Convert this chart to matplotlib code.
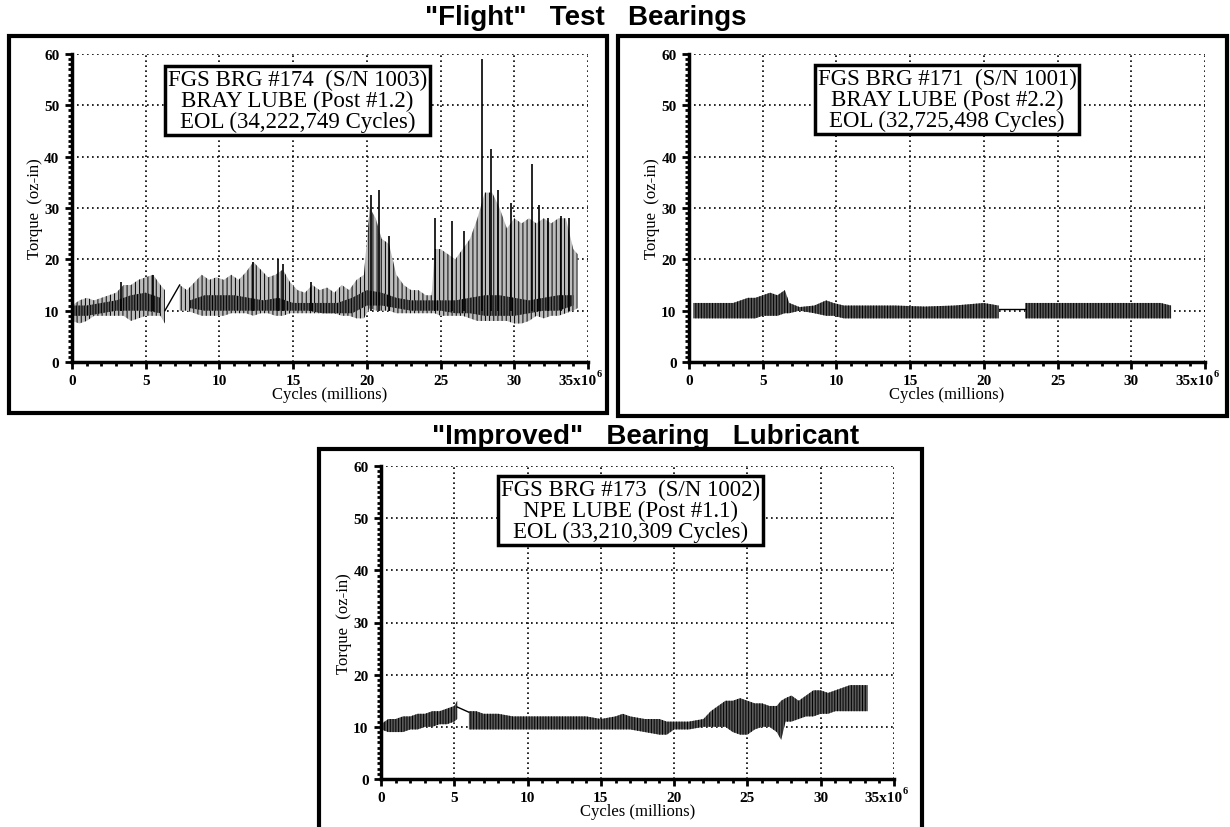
import matplotlib
matplotlib.use('Agg')
import matplotlib.pyplot as plt
from matplotlib.patches import Rectangle
from matplotlib.ticker import MultipleLocator

nan = float('nan')
plt.rcParams['hatch.linewidth'] = 0.7

# --- data (torque in oz-in, cycles in millions) ---

# FGS BRG #174, Bray lube: envelope of the trace
p1_x = [0, 0.5, 1, 1.5, 2, 2.5, 3, 3.5, 4, 4.5, 5, 5.5, 6, 6.3, 6.8,
        7.3, 7.8, 8.3, 8.8, 9.3, 9.8, 10.3, 10.8, 11.3, 11.8, 12.3, 12.8, 13.3, 13.8, 14.3, 14.8,
        15.3, 15.8, 16.3, 16.8, 17.3, 17.8, 18.3, 18.8, 19.3, 19.8, 20.2, 20.6, 21, 21.5, 22,
        22.5, 23, 23.5, 24, 24.4, 24.6, 25, 25.5, 26, 26.5, 27, 27.5, 28, 28.5, 29, 29.5,
        30, 30.5, 31, 31.5, 32, 32.5, 33, 33.5, 34, 34.3]
p1_lo = [8, 7.5, 8, 9, 9, 9, 9, 9, 8, 8.5, 9, 9, 9, 7.5, nan,
         10, 10, 9.5, 9, 9, 9, 9, 9.5, 9.5, 9.5, 9, 9.5, 9.5, 9, 9, 9.5,
         9.5, 9.5, 9.5, 9.5, 9.5, 9.5, 9, 9, 8.5, 8.5, 10.5, 10, 10, 10, 9.5,
         9.5, 9.5, 9.5, 9.5, 9.5, 9.5, 9, 9, 9, 9, 8.5, 8, 8, 8, 8, 8,
         7.5, 7.5, 8, 9, 8.5, 9, 9, 9.5, 10, 10.5]
p1_hi = [11, 12, 12.5, 12, 12.5, 13, 13.5, 15, 15, 16, 16.5, 17, 15, 14, nan,
         15, 14, 15.5, 17, 16, 16.5, 16, 17, 16, 17.5, 19.5, 18, 16.5, 17, 18, 15.5,
         14, 13.5, 15, 14, 14.5, 13.5, 15, 14, 16, 17, 30, 28, 24, 23, 17,
         15, 14, 14, 13, 13, 22, 22, 21, 20, 22, 24, 28, 33, 33, 30, 26,
         28, 27, 28, 27, 28, 27, 28, 28, 22, 21]
# darker, denser core of the trace
p1_core_x = list(range(35))
p1_core_lo = [9, 9, 9.5, 10, 10, 10, 9.5, nan, 10.5, 10, 10, 10, 10, 10, 10, 10, 10, 9.5,
              9.5, 9.5, 11, 11, 10.5, 10, 10, 10, 9.5, 9.5, 9, 9, 9, 9.5, 10, 10, 11]
p1_core_hi = [11, 11, 11.5, 12, 13, 13.5, 12.5, nan, 12, 13, 13, 13, 12.5, 12, 12.5, 11.5, 11.5, 11.5,
              11.5, 12.5, 14, 13.5, 12.5, 12, 12, 12, 12, 12.5, 13, 13, 12.5, 12, 12.5, 13, 13]
p1_spike_x = [3.3, 5.5, 12.3, 14.0, 14.3, 16.2, 20.3, 20.8, 21.5, 24.6, 25.8, 26.6,
              27.8, 28.4, 28.9, 29.8, 31.2, 31.7, 32.3, 33.2, 33.7]
p1_spike_top = [15.5, 17, 19.5, 20, 19, 15.5, 32.5, 33.5, 24.5, 28, 27.5, 25.5,
                59, 41.5, 33.5, 31, 38.5, 30.5, 28, 28.5, 28]
p1_spike_base = 10
p1_link_x = [6.3, 7.3]
p1_link_y = [10, 15]

# FGS BRG #171, Bray lube
p2_x = [0.3, 1, 2, 3, 3.5, 4, 4.5, 5, 5.5, 6, 6.5, 6.8, 7.5, 8.5, 9.3, 9.8, 10.5,
        12, 14, 16, 18, 20, 21, 22, 22.8, 24, 26, 28, 30, 32, 32.7]
p2_lo = [8.5, 8.5, 8.5, 8.5, 8.5, 8.5, 8.5, 9, 9, 9, 9.5, 9.5, 10, 9.5, 9, 9, 8.5,
         8.5, 8.5, 8.5, 8.5, 8.5, 8.5, nan, 8.5, 8.5, 8.5, 8.5, 8.5, 8.5, 8.5]
p2_hi = [11.5, 11.5, 11.5, 11.5, 12, 12.5, 12.5, 13, 13.5, 13, 14, 11.5, 10.7, 11, 12, 11.5, 11,
         11, 11, 10.8, 11, 11.5, 11, nan, 11.5, 11.5, 11.5, 11.5, 11.5, 11.5, 11]
p2_link_x = [21, 22.8]
p2_link_y = [10.3, 10.3]

# FGS BRG #173, NPE lube
p3_x = [0, 0.5, 1, 1.5, 2, 2.5, 3, 3.5, 4, 4.5, 5, 5.2, 5.6, 6, 6.5, 7, 8, 9, 10, 11, 12,
        13, 14, 15, 16, 16.5, 17, 18, 19, 19.5, 20, 21, 22, 22.5, 23, 23.5, 24, 24.5, 25,
        25.5, 26, 26.5, 27, 27.3, 27.6, 28, 28.5, 29, 29.5, 30, 30.5, 31, 31.5, 32, 32.5, 33.2]
p3_lo = [9.5, 9, 9, 9, 9.5, 9.5, 10, 10, 10.5, 10.5, 11, 11.5, nan, 9.5, 9.5, 9.5, 9.5, 9.5, 9.5, 9.5, 9.5,
         9.5, 9.5, 9.5, 9.5, 9.5, 9.5, 9, 8.5, 8.5, 9.5, 9.5, 10, 10, 10, 10, 9, 8.5, 8.5,
         9.5, 10, 10, 9, 7.5, 11, 11, 11.5, 12, 12, 12.5, 12.5, 13, 13, 13, 13, 13]
p3_hi = [10.5, 11.5, 11.5, 12, 12, 12.5, 12.5, 13, 13, 13.5, 14, 15, nan, 13, 13, 12.5, 12.5, 12, 12, 12, 12,
         12, 12, 11.5, 12, 12.5, 12, 11.5, 11.5, 11, 11, 11, 11.5, 13, 14, 15, 15, 15.5, 15,
         14.5, 14.5, 14, 14, 15, 15.5, 16, 15, 16, 17, 17, 16.5, 17, 17.5, 18, 18, 18]
p3_link_x = [5.2, 6.0]
p3_link_y = [13.8, 12.8]

xtick_vals = [0, 5, 10, 15, 20, 25, 30, 35]
xtick_labels = ['0', '5', '10', '15', '20', '25', '30', '']
ytick_vals = [0, 10, 20, 30, 40, 50, 60]

box1 = 'FGS BRG #174  (S/N 1003)\nBRAY LUBE (Post #1.2)\nEOL (34,222,749 Cycles)'
box2 = 'FGS BRG #171  (S/N 1001)\nBRAY LUBE (Post #2.2)\nEOL (32,725,498 Cycles)'
box3 = 'FGS BRG #173  (S/N 1002)\nNPE LUBE (Post #1.1)\nEOL (33,210,309 Cycles)'

serif = 'Liberation Serif'
sans = 'Liberation Sans'


def setup_axes(ax):
    ax.set_xlim(0, 35)
    ax.set_ylim(0, 60)
    ax.set_xticks(xtick_vals)
    ax.set_xticklabels(xtick_labels)
    ax.set_yticks(ytick_vals)
    ax.xaxis.set_minor_locator(MultipleLocator(1))
    ax.yaxis.set_minor_locator(MultipleLocator(1))
    ax.tick_params(which='major', direction='out', length=5, width=2, pad=4)
    ax.tick_params(which='minor', direction='out', length=3, width=2)
    for lab in ax.get_xticklabels() + ax.get_yticklabels():
        lab.set_fontfamily(serif)
        lab.set_fontweight('bold')
        lab.set_fontsize(11)
    ax.grid(True, which='major', color='black', linestyle=(0, (1, 2)), linewidth=1.2)
    ax.set_axisbelow(True)
    for s in ['top', 'right']:
        ax.spines[s].set_visible(False)
    for s in ['left', 'bottom']:
        ax.spines[s].set_linewidth(2.5)
    ax.set_xlabel('Cycles (millions)', fontfamily=serif, fontsize=12, labelpad=-1)
    ax.set_ylabel('Torque  (oz-in)', fontfamily=serif, fontsize=12, labelpad=1)
    # last tick label "35x10^6", set slightly to the left like the original
    ax.annotate('35x10', xy=(35, 0), xycoords=('data', 'axes fraction'),
                xytext=(6, -9), textcoords='offset points', ha='right', va='top',
                fontfamily=serif, fontweight='bold', fontsize=11)
    ax.annotate('6', xy=(35, 0), xycoords=('data', 'axes fraction'),
                xytext=(6, -5), textcoords='offset points', ha='left', va='top',
                fontfamily=serif, fontweight='bold', fontsize=7.5)
    ax.set_facecolor('none')


def draw_band(ax, x, lo, hi, face, hatch):
    ax.fill_between(x, lo, hi, facecolor=face, edgecolor='black', hatch=hatch, linewidth=0)


def add_box(ax, text, xf, yf):
    ax.text(xf, yf, text, transform=ax.transAxes, ha='center', va='center',
            fontfamily=serif, fontsize=16.5, linespacing=1.0,
            bbox=dict(boxstyle='square,pad=0.12', fc='white', ec='black', lw=2.5))


fig = plt.figure(figsize=(12.3, 8.28), dpi=100)

# panel frames
fig.add_artist(Rectangle((9 / 1230, 1 - 414 / 828), 598 / 1230, 377 / 828,
                         transform=fig.transFigure, fill=False, lw=3, ec='black'))
fig.add_artist(Rectangle((618 / 1230, 1 - 417 / 828), 609 / 1230, 380 / 828,
                         transform=fig.transFigure, fill=False, lw=3, ec='black'))
fig.add_artist(Rectangle((319 / 1230, 1 - 840 / 828), 603 / 1230, 390 / 828,
                         transform=fig.transFigure, fill=False, lw=3, ec='black'))

fig.text(586 / 1230, 1 - 18 / 828, '"Flight"   Test   Bearings', ha='center', va='center',
         fontfamily=sans, fontweight='bold', fontsize=20)
fig.text(646 / 1230, 1 - 437 / 828, '"Improved"   Bearing   Lubricant', ha='center', va='center',
         fontfamily=sans, fontweight='bold', fontsize=20)

# panel 1
ax1 = fig.add_axes([72 / 1230, 1 - 363 / 828, 516 / 1230, 308 / 828])
draw_band(ax1, p1_x, p1_lo, p1_hi, '#bdbdbd', '||||')
draw_band(ax1, p1_core_x, p1_core_lo, p1_core_hi, '#5a5a5a', '||||||')
ax1.vlines(p1_spike_x, p1_spike_base, p1_spike_top, color='black', lw=1.2)
ax1.plot(p1_link_x, p1_link_y, color='black', lw=1)
setup_axes(ax1)
add_box(ax1, box1, 0.437, 0.849)

# panel 2
ax2 = fig.add_axes([689 / 1230, 1 - 363 / 828, 516 / 1230, 308 / 828])
draw_band(ax2, p2_x, p2_lo, p2_hi, '#5a5a5a', '||||||')
ax2.plot(p2_link_x, p2_link_y, color='black', lw=1)
setup_axes(ax2)
add_box(ax2, box2, 0.50, 0.852)

# panel 3
ax3 = fig.add_axes([381 / 1230, 1 - 780 / 828, 513 / 1230, 313 / 828])
draw_band(ax3, p3_x, p3_lo, p3_hi, '#5a5a5a', '||||||')
ax3.plot(p3_link_x, p3_link_y, color='black', lw=1)
setup_axes(ax3)
add_box(ax3, box3, 0.486, 0.858)

fig.savefig('out.png', dpi=100)
